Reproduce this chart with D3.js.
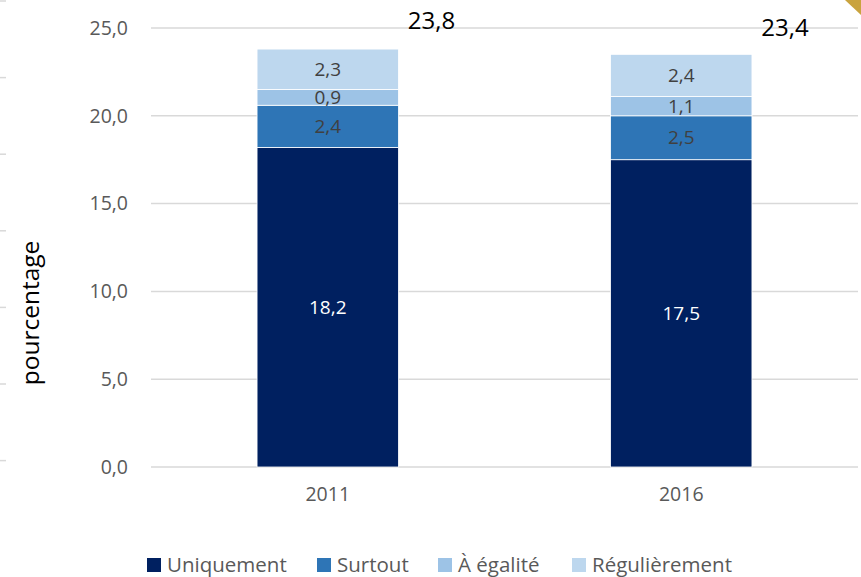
<!DOCTYPE html>
<html lang="fr">
<head>
<meta charset="UTF-8">
<title>pourcentage</title>
<script src="https://d3js.org/d3.v7.min.js"></script>
<style>
  body { margin: 0; background: #fff; }
  svg { display: block; font-family: "Open Sans", "Noto Sans", sans-serif; }
</style>
</head>
<body>
<div id="chart"></div>
<script>
// data
const years = ["2011", "2016"];
const series = ["Uniquement", "Surtout", "À égalité", "Régulièrement"];
const uniquement = [18.2, 17.5];
const surtout = [2.4, 2.5];
const egalite = [0.9, 1.1];
const regulierement = [2.3, 2.4];
const totals = [23.8, 23.4];
const yTicks = [0, 5, 10, 15, 20, 25];

const colors = ["#002060", "#2E75B6", "#9DC3E6", "#BDD7EE"];
const labelColors = ["#ffffff", "#404040", "#404040", "#404040"];

const W = 861, H = 577;
const plotLeft = 151, plotRight = 858, plotTop = 28, plotBottom = 467;

const svg = d3.select("#chart").append("svg")
  .attr("width", W).attr("height", H);

const x = d3.scaleBand().domain(years).range([plotLeft, plotRight])
  .paddingInner(0.6).paddingOuter(0.3);
const y = d3.scaleLinear().domain([0, 25]).range([plotBottom, plotTop]);

const fmt = v => d3.format(".1f")(v).replace(".", ",");

// little tick marks on the left edge (leftover from a neighbour chart)
svg.append("g").selectAll("line")
  .data(d3.range(0, 7))
  .join("line")
  .attr("x1", 0).attr("x2", 6)
  .attr("y1", d => 1 + d * 76.6).attr("y2", d => 1 + d * 76.6)
  .attr("stroke", "#d9d9d9").attr("stroke-width", 1.5);

// corner decoration
svg.append("path")
  .attr("d", `M${W - 16},0 L${W},0 L${W},15 Z`)
  .attr("fill", "#C9A33E");

// gridlines
svg.append("g").selectAll("line")
  .data(yTicks)
  .join("line")
  .attr("x1", plotLeft).attr("x2", plotRight)
  .attr("y1", d => y(d)).attr("y2", d => y(d))
  .attr("stroke", "#d9d9d9").attr("stroke-width", 1.5);

// y axis labels
const yAxis = svg.append("g")
  .attr("transform", `translate(${plotLeft - 23},0)`)
  .call(d3.axisLeft(y).tickValues(yTicks).tickSize(0).tickPadding(0).tickFormat(fmt));
yAxis.select(".domain").remove();
yAxis.selectAll("text")
  .attr("fill", "#595959").attr("font-size", "19.5px")
  .style("font-family", "'Open Sans', sans-serif");

// x axis labels
const xAxis = svg.append("g")
  .attr("transform", `translate(0,${plotBottom + 20})`)
  .call(d3.axisBottom(x).tickSize(0).tickPadding(0));
xAxis.select(".domain").remove();
xAxis.selectAll("text")
  .attr("fill", "#595959").attr("font-size", "19.5px")
  .style("font-family", "'Open Sans', sans-serif");

// axis title
svg.append("text")
  .attr("transform", `translate(39,313) rotate(-90)`)
  .attr("text-anchor", "middle")
  .attr("font-size", "24.5px")
  .attr("fill", "#000")
  .text("pourcentage");

// stacked data
const rows = years.map((yr, i) => ({
  year: yr,
  "Uniquement": uniquement[i],
  "Surtout": surtout[i],
  "À égalité": egalite[i],
  "Régulièrement": regulierement[i]
}));
const stacked = d3.stack().keys(series)(rows);

const layers = svg.append("g").selectAll("g")
  .data(stacked)
  .join("g")
  .attr("fill", (d, i) => colors[i]);

layers.selectAll("rect")
  .data(d => d)
  .join("rect")
  .attr("x", d => x(d.data.year))
  .attr("width", x.bandwidth())
  .attr("y", d => y(d[1]))
  .attr("height", d => y(d[0]) - y(d[1]))
  .attr("stroke", "#ffffff").attr("stroke-width", 0.8);

// segment labels
stacked.forEach((layer, li) => {
  svg.append("g").selectAll("text")
    .data(layer)
    .join("text")
    .attr("x", d => x(d.data.year) + x.bandwidth() / 2)
    .attr("y", d => (y(d[0]) + y(d[1])) / 2)
    .attr("dy", "0.35em")
    .attr("text-anchor", "middle")
    .attr("font-size", "19px")
    .attr("fill", labelColors[li])
    .text(d => fmt(d[1] - d[0]));
});

// totals
svg.append("g").selectAll("text")
  .data(years)
  .join("text")
  .attr("x", d => x(d) + x.bandwidth() + 33)
  .attr("y", (d, i) => y(totals[i]) - 20)
  .attr("text-anchor", "middle")
  .attr("font-size", "24px")
  .attr("fill", "#000")
  .text((d, i) => fmt(totals[i]));

// legend
const legendX = [147, 317, 438, 572];
const legend = svg.append("g").selectAll("g")
  .data(series)
  .join("g")
  .attr("transform", (d, i) => `translate(${legendX[i]},558)`);
legend.append("rect")
  .attr("width", 14).attr("height", 14)
  .attr("fill", (d, i) => colors[i]);
legend.append("text")
  .attr("x", 20).attr("y", 7).attr("dy", "0.36em")
  .attr("font-size", "20.5px")
  .attr("fill", "#595959")
  .text(d => d);
</script>
</body>
</html>
